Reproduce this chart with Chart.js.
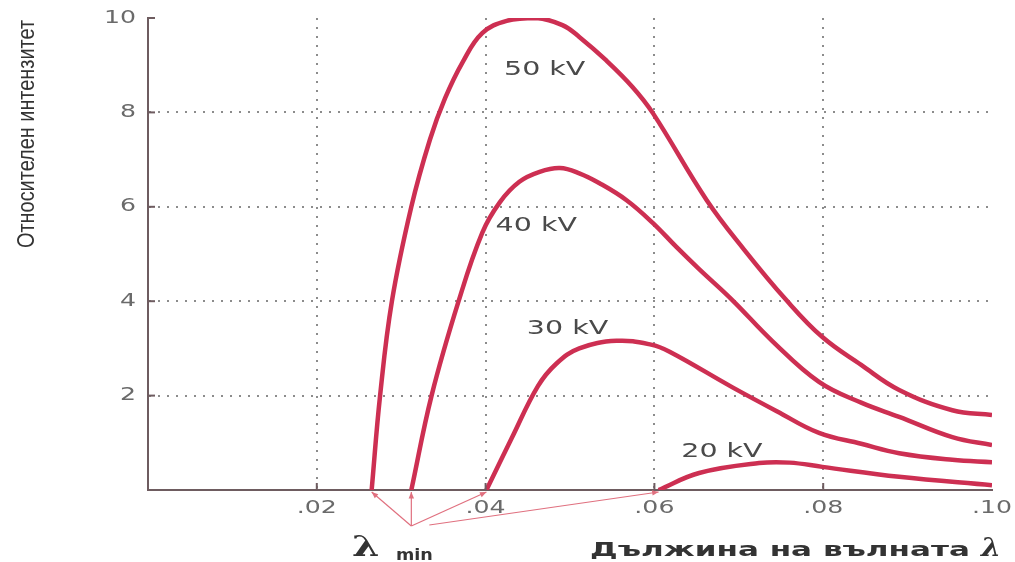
<!DOCTYPE html>
<html>
<head>
<meta charset="utf-8">
<script src="https://cdn.jsdelivr.net/npm/chart.js"></script>
<style>
  body { margin: 0; background: #fff; }
  #wrap { width: 1015px; height: 562px; }
</style>
</head>
<body>
<div id="wrap"><canvas id="myChart" width="1015" height="562"></canvas></div>
<script>
// curve values (wavelength, relative intensity)
const kv50X = [0.0265, 0.0275, 0.0289, 0.0312, 0.0334, 0.0352, 0.0373, 0.0396, 0.0425, 0.046, 0.0491, 0.0511, 0.0543, 0.0574, 0.0598, 0.0662, 0.0706, 0.0756, 0.0799, 0.0845, 0.089, 0.0953, 0.1];
const kv50Y = [0, 2.0, 4.0, 6.0, 7.42, 8.3, 9.07, 9.68, 9.94, 10.0, 9.85, 9.6, 9.1, 8.54, 7.99, 6.14, 5.1, 4.03, 3.24, 2.65, 2.12, 1.69, 1.59];

const kv40X = [0.0312, 0.0336, 0.0368, 0.0396, 0.0417, 0.044, 0.0464, 0.0488, 0.0511, 0.0535, 0.0567, 0.0598, 0.0626, 0.0653, 0.0692, 0.074, 0.0795, 0.0845, 0.089, 0.0953, 0.1];
const kv40Y = [0, 2.0, 4.0, 5.45, 6.1, 6.53, 6.74, 6.82, 6.71, 6.5, 6.14, 5.66, 5.15, 4.68, 4.03, 3.15, 2.29, 1.85, 1.55, 1.12, 0.95];

const kv30X = [0.0401, 0.0431, 0.0462, 0.0484, 0.0511, 0.0555, 0.0596, 0.0618, 0.0692, 0.0745, 0.0795, 0.0845, 0.089, 0.0953, 0.1];
const kv30Y = [0, 1.1, 2.2, 2.68, 3.0, 3.16, 3.08, 2.93, 2.18, 1.67, 1.21, 0.98, 0.78, 0.64, 0.59];

const kv20X = [0.0605, 0.0653, 0.0724, 0.076, 0.0799, 0.089, 0.1];
const kv20Y = [0, 0.36, 0.57, 0.58, 0.49, 0.28, 0.1];

const curveNames = ['50 kV', '40 kV', '30 kV', '20 kV'];
// where each curve starts (lambda min)
const lambdaMin = [0.0265, 0.0312, 0.0401, 0.0605];

const xTickLabels = ['', '.02', '.04', '.06', '.08', '.10'];
const yTickLabels = ['', '2', '4', '6', '8', '10'];
const yTitle = 'Относителен интензитет';
const xTitle = 'Дължина на вълната';

// label anchors for the curve names, in data units
const labelAt = [[0.047, 8.9], [0.046, 5.6], [0.0497, 3.42], [0.068, 0.8]];

const red = '#cd2f52';
const axisColor = '#6e5c60';

function pts(xs, ys) {
    return xs.map((v, i) => ({x: v, y: ys[i]}));
}

// draw text stretched horizontally (the print uses a wide face)
function wideText(ctx, text, x, y, sx) {
    ctx.save();
    ctx.translate(x, y);
    ctx.scale(sx, 1);
    ctx.fillText(text, 0, 0);
    ctx.restore();
}

const annotate = {
    id: 'annotate',
    afterDraw(chart) {
        const {ctx, chartArea} = chart;
        const xs = chart.scales.x, ys = chart.scales.y;
        ctx.save();

        // small inward ticks
        ctx.strokeStyle = axisColor;
        ctx.lineWidth = 2;
        ys.ticks.forEach(t => {
            if (t.value <= 0) return;
            const py = ys.getPixelForValue(t.value);
            ctx.beginPath();
            ctx.moveTo(chartArea.left, py);
            ctx.lineTo(chartArea.left + 7, py);
            ctx.stroke();
        });
        xs.ticks.forEach(t => {
            if (t.value <= 0.001 || t.value > 0.099) return;
            const px = xs.getPixelForValue(t.value);
            ctx.beginPath();
            ctx.moveTo(px, chartArea.bottom);
            ctx.lineTo(px, chartArea.bottom - 7);
            ctx.stroke();
        });

        // tick labels, placed by the scales
        ctx.fillStyle = '#6a6a6a';
        ctx.font = '18px "DejaVu Sans"';
        ctx.textBaseline = 'middle';
        ctx.textAlign = 'right';
        ys.ticks.forEach((t, i) => {
            const s = yTickLabels[i];
            if (!s) return;
            wideText(ctx, s, chartArea.left - 12, ys.getPixelForValue(t.value), 1.4);
        });
        xs.ticks.forEach((t, i) => {
            const s = xTickLabels[i];
            if (!s) return;
            const w = ctx.measureText(s).width * 1.4;
            wideText(ctx, s, xs.getPixelForValue(t.value) + w / 2, chartArea.bottom + 18, 1.4);
        });

        // y axis title, narrow and tall
        ctx.fillStyle = '#333';
        ctx.font = '24px "Liberation Sans"';
        ctx.textAlign = 'center';
        const yw = ctx.measureText(yTitle).width;
        ctx.save();
        ctx.translate(27, 134);
        ctx.rotate(-Math.PI / 2);
        ctx.scale(228 / yw, 1);
        ctx.fillText(yTitle, 0, 0);
        ctx.restore();

        // curve names
        ctx.fillStyle = '#4a4a4a';
        ctx.font = '19px "DejaVu Sans"';
        curveNames.forEach((name, i) => {
            wideText(ctx, name, xs.getPixelForValue(labelAt[i][0]), ys.getPixelForValue(labelAt[i][1]), 1.5);
        });

        // lambda min arrows
        const apexX = xs.getPixelForValue(lambdaMin[1]);
        const apexY = chartArea.bottom + 36;
        ctx.strokeStyle = '#e0707f';
        ctx.fillStyle = '#e0707f';
        ctx.lineWidth = 1.2;
        lambdaMin.forEach((v, i) => {
            const tx = xs.getPixelForValue(v);
            const ty = chartArea.bottom + 2;
            const sx = i === 3 ? apexX + 18 : apexX;
            const sy = i === 3 ? apexY - 1 : apexY;
            ctx.beginPath();
            ctx.moveTo(sx, sy);
            ctx.lineTo(tx, ty);
            ctx.stroke();
            const a = Math.atan2(ty - sy, tx - sx);
            ctx.beginPath();
            ctx.moveTo(tx, ty);
            ctx.lineTo(tx - 7 * Math.cos(a - 0.4), ty - 7 * Math.sin(a - 0.4));
            ctx.lineTo(tx - 7 * Math.cos(a + 0.4), ty - 7 * Math.sin(a + 0.4));
            ctx.closePath();
            ctx.fill();
        });

        // lambda min text
        ctx.fillStyle = '#333';
        ctx.textAlign = 'left';
        ctx.textBaseline = 'alphabetic';
        ctx.font = 'bold 28px "DejaVu Serif"';
        wideText(ctx, 'λ', 352, 556, 1.4);
        ctx.font = 'bold 16px "DejaVu Sans"';
        wideText(ctx, 'min', 396, 560, 1.1);

        // x axis title
        ctx.font = 'bold 19px "DejaVu Sans"';
        const w = ctx.measureText(xTitle).width;
        wideText(ctx, xTitle, 590, 556, 380 / w);
        ctx.font = 'italic bold 26px "DejaVu Serif"';
        wideText(ctx, 'λ', 981, 556, 1.1);

        ctx.restore();
    }
};

const ctx = document.getElementById('myChart').getContext('2d');
const line = {borderColor: red, borderWidth: 4.5, pointRadius: 0, showLine: true, tension: 0.4, fill: false};
new Chart(ctx, {
    type: 'scatter',
    data: {
        datasets: [
            Object.assign({label: curveNames[0], data: pts(kv50X, kv50Y)}, line),
            Object.assign({label: curveNames[1], data: pts(kv40X, kv40Y)}, line),
            Object.assign({label: curveNames[2], data: pts(kv30X, kv30Y)}, line),
            Object.assign({label: curveNames[3], data: pts(kv20X, kv20Y)}, line)
        ]
    },
    options: {
        responsive: false,
        animation: false,
        layout: {padding: {top: 18, right: 23, left: 0, bottom: 0}},
        plugins: {legend: {display: false}, tooltip: {enabled: false}},
        scales: {
            x: {
                type: 'linear',
                min: 0,
                max: 0.1,
                afterFit: s => { s.height = 72; },
                ticks: {stepSize: 0.02, display: false},
                grid: {
                    drawTicks: false,
                    lineWidth: 2,
                    color: c => (c.tick && c.tick.value > 0.001 && c.tick.value < 0.099) ? '#8c8c8c' : 'rgba(0,0,0,0)'
                },
                border: {color: axisColor, width: 2, dash: [2, 7]}
            },
            y: {
                min: 0,
                max: 10,
                afterFit: s => { s.width = 148; },
                ticks: {stepSize: 2, display: false},
                grid: {
                    drawTicks: false,
                    lineWidth: 2,
                    color: c => (c.tick && c.tick.value > 0 && c.tick.value < 10) ? '#8c8c8c' : 'rgba(0,0,0,0)'
                },
                border: {color: axisColor, width: 2, dash: [2, 7]}
            }
        }
    },
    plugins: [annotate]
});
</script>
</body>
</html>
